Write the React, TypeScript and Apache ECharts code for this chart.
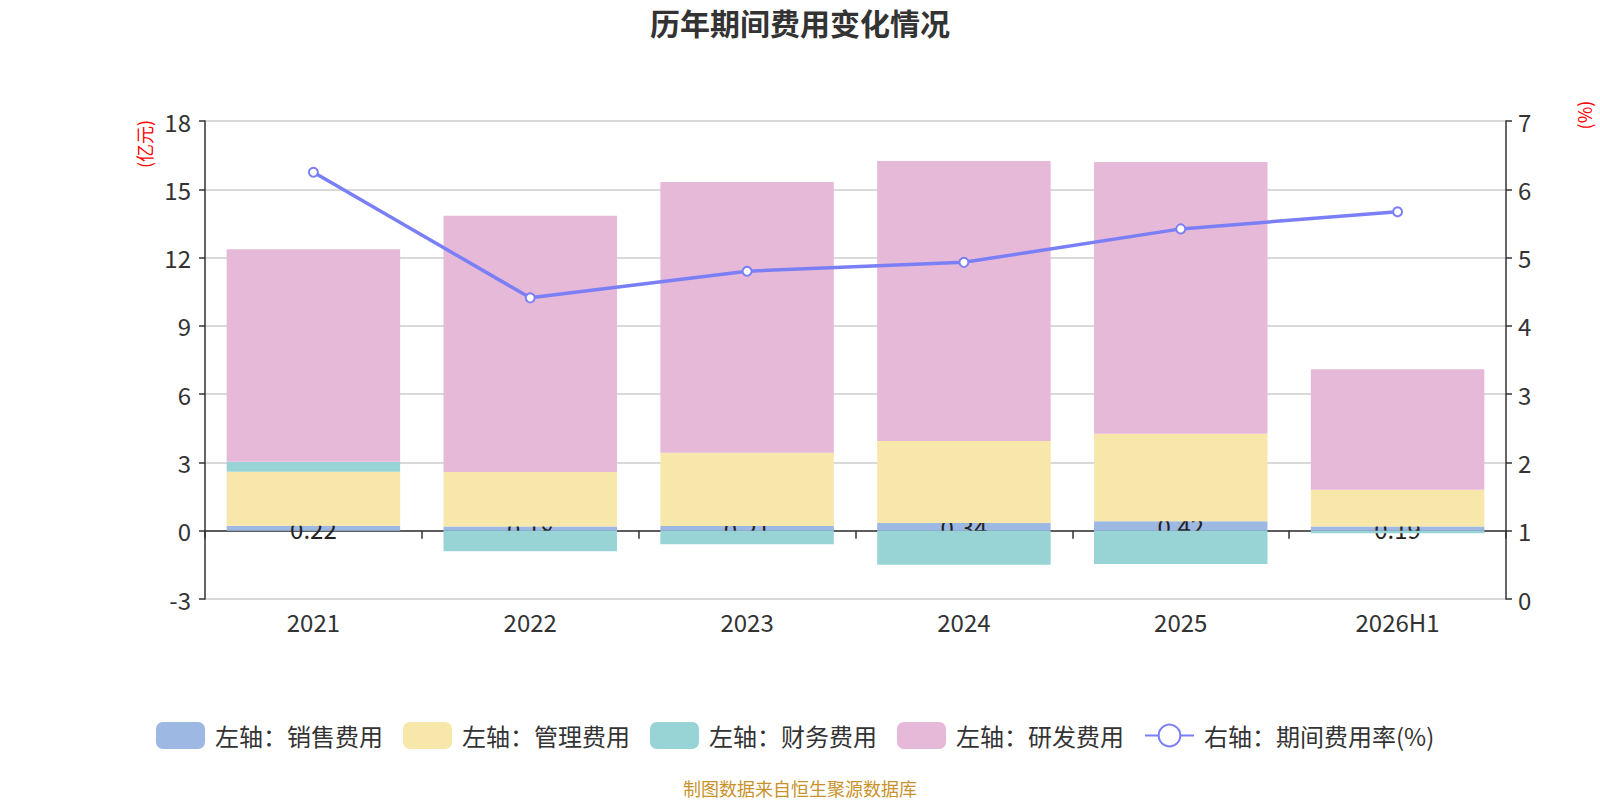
import React, { useEffect, useRef } from "react";
import * as echarts from "echarts";

const categories = ["2021", "2022", "2023", "2024", "2025", "2026H1"];
const salesExpense = [0.22, 0.18, 0.21, 0.34, 0.42, 0.19];
const adminExpense = [2.37, 2.4, 3.21, 3.6, 3.84, 1.61];
const financeExpense = [0.44, -0.9, -0.6, -1.49, -1.46, -0.11];
const rdExpense = [9.34, 11.26, 11.9, 12.3, 11.94, 5.29];
const expenseRate = [6.25, 4.41, 4.8, 4.93, 5.42, 5.67];

const leftTicks = { min: -3, max: 18, interval: 3 };
const rightTicks = { min: 0, max: 7, interval: 1 };

const FONT = "'Noto Sans CJK SC', 'Noto Sans', sans-serif";

export default function App() {
  const ref = useRef<HTMLDivElement>(null);
  useEffect(() => {
    document.body.style.margin = "0";
    if (!ref.current) return;
    const chart = echarts.init(ref.current, null, { renderer: "svg" });
    const barCommon = {
      type: "bar",
      stack: "total",
      barWidth: "80%",
      yAxisIndex: 0,
      xAxisIndex: 0,
    };
    chart.setOption({
      animation: false,
      textStyle: { fontFamily: FONT },
      title: [
        {
          text: "历年期间费用变化情况",
          left: "center",
          top: 2,
          textStyle: { fontSize: 30, fontWeight: "bold", color: "#333", fontFamily: FONT },
        },
        {
          text: "制图数据来自恒生聚源数据库",
          left: "center",
          top: 774,
          textStyle: { fontSize: 18, fontWeight: "normal", color: "#C8932B", fontFamily: FONT },
        },
      ],
      legend: {
        bottom: 46,
        left: 151,
        itemWidth: 49,
        itemHeight: 27,
        itemGap: 20,
        textStyle: { fontSize: 24, color: "#333", fontFamily: FONT, padding: [0, 0, 0, 5] },
        data: [
          { name: "左轴：销售费用", icon: "roundRect" },
          { name: "左轴：管理费用", icon: "roundRect" },
          { name: "左轴：财务费用", icon: "roundRect" },
          { name: "左轴：研发费用", icon: "roundRect" },
          { name: "右轴：期间费用率(%)" },
        ],
      },
      grid: { left: 205, right: 94, top: 121, bottom: 201 },
      graphic: [
        {
          type: "text",
          x: 144,
          y: 144,
          rotation: Math.PI / 2,
          style: {
            text: "(亿元)",
            fill: "#FF0000",
            fontSize: 18,
            fontFamily: FONT,
            align: "center",
            verticalAlign: "middle",
          },
        },
        {
          type: "text",
          x: 1584,
          y: 115,
          rotation: Math.PI / 2,
          style: {
            text: "(%)",
            fill: "#FF0000",
            fontSize: 18,
            fontFamily: FONT,
            align: "center",
            verticalAlign: "middle",
          },
        },
      ],
      xAxis: [
        {
          type: "category",
          data: categories,
          position: "bottom",
          axisLine: { onZero: true, lineStyle: { color: "#333", width: 1.5 } },
          axisTick: { show: true, length: 8, lineStyle: { color: "#333", width: 1.5 } },
          axisLabel: { show: false },
        },
        {
          type: "category",
          data: categories,
          position: "bottom",
          axisLine: { show: false, onZero: false },
          axisTick: { show: false },
          axisLabel: { show: true, fontSize: 24, color: "#333", margin: 10, fontFamily: FONT },
        },
      ],
      yAxis: [
        {
          type: "value",
          min: leftTicks.min,
          max: leftTicks.max,
          interval: leftTicks.interval,
          axisLine: { show: true, lineStyle: { color: "#333", width: 1.5 } },
          axisTick: { show: true, length: 6, lineStyle: { color: "#333", width: 1.5 } },
          axisLabel: { fontSize: 24, color: "#333", margin: 14, fontFamily: FONT },
          splitLine: { show: true, lineStyle: { color: "#CCCCCC", width: 1.5 } },
        },
        {
          type: "value",
          position: "right",
          min: rightTicks.min,
          max: rightTicks.max,
          interval: rightTicks.interval,
          axisLine: { show: true, lineStyle: { color: "#333", width: 1.5 } },
          axisTick: { show: true, length: 6, lineStyle: { color: "#333", width: 1.5 } },
          axisLabel: { fontSize: 24, color: "#333", margin: 12, fontFamily: FONT },
          splitLine: { show: false },
        },
      ],
      series: [
        {
          ...barCommon,
          name: "左轴：销售费用",
          z: 1,
          data: salesExpense,
          itemStyle: { color: "#9DB8E2" },
          label: {
            show: true,
            position: "inside",
            color: "#222",
            fontSize: 24,
            fontFamily: FONT,
          },
        },
        {
          ...barCommon,
          name: "左轴：管理费用",
          data: adminExpense,
          itemStyle: { color: "#F8E7AA" },
        },
        {
          ...barCommon,
          name: "左轴：财务费用",
          data: financeExpense,
          itemStyle: { color: "#98D4D6" },
        },
        {
          ...barCommon,
          name: "左轴：研发费用",
          data: rdExpense,
          itemStyle: { color: "#E7B9D9" },
        },
        {
          type: "line",
          name: "右轴：期间费用率(%)",
          yAxisIndex: 1,
          xAxisIndex: 0,
          data: expenseRate,
          symbol: "emptyCircle",
          symbolSize: 9,
          z: 5,
          lineStyle: { color: "#7B7FF6", width: 3.5 },
          itemStyle: { color: "#7B7FF6", borderWidth: 2 },
        },
      ],
    });
    return () => chart.dispose();
  }, []);
  return <div ref={ref} style={{ width: 1600, height: 800 }} />;
}
